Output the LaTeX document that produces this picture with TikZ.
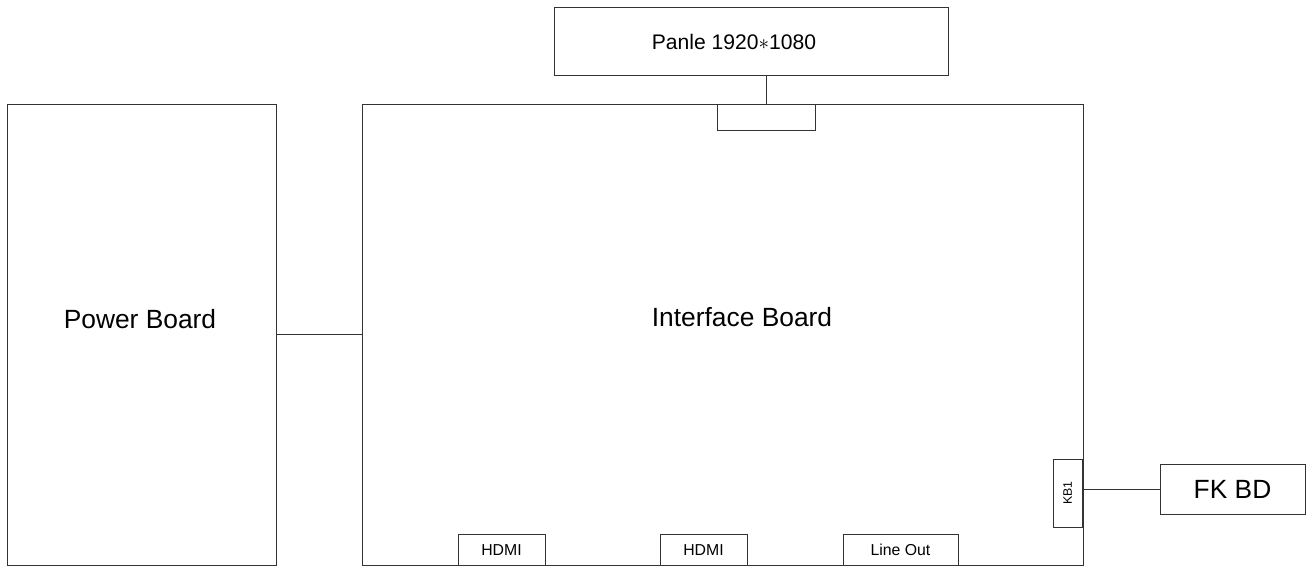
\documentclass[tikz,border=0pt]{standalone}
\usepackage{fontspec}
\setmainfont{Liberation Sans}
\usetikzlibrary{positioning}

\begin{document}
\begin{tikzpicture}[x=1cm,y=1cm,
  board/.style={draw=black!80,line width=0.5pt,inner sep=0pt,outer sep=0pt},
  port/.style={draw=black!80,line width=0.5pt,inner sep=0pt,outer sep=0pt,
    minimum height=0.61cm,font=\fontsize{9}{10}\selectfont},
  big/.style={font=\fontsize{15}{18}\selectfont},
  wire/.style={draw=black!80,line width=0.5pt}]

\useasboundingbox (0,0) rectangle (26.22,-11.34);

% boards
\node[board,minimum width=5.38cm,minimum height=9.22cm] (power) at (2.83,-6.69) {};
\node[board,minimum width=14.42cm,minimum height=9.22cm] (iface) at (14.45,-6.69) {};
\node[board,minimum width=7.88cm,minimum height=1.36cm] (panel) at (15.02,-0.82) {};
\node[board,minimum width=2.9cm,minimum height=1.0cm,big] (fkbd) at (24.65,-9.78) {FK BD};

% texts
\node[big] (powertxt) at (2.8,-6.38) {Power Board};
\node[big] (ifacetxt) at (14.84,-6.34) {Interface Board};
\node[font=\fontsize{12}{14}\selectfont] (paneltxt) at (14.68,-0.84) {Panle 1920$\ast$1080};

% connectors on the interface board
\node[board,minimum width=1.96cm,minimum height=0.52cm] (lvds) at (15.32,-2.34) {};
\node[port,minimum width=1.74cm] (hdmia) at (10.03,-11.0) {HDMI};
\node[port,minimum width=1.74cm] (hdmib) at (14.07,-11.0) {HDMI};
\node[port,minimum width=2.3cm] (lineout) at (18.01,-11.0) {Line Out};
\node[board,minimum width=0.58cm,minimum height=1.36cm,
  font=\fontsize{7}{8}\selectfont] (kb) at (21.35,-9.86) {\rotatebox{90}{KB1}};

% links
\draw[wire] (power.east) -- (iface.west);
\draw[wire] (lvds.north) -- (lvds.north |- panel.south);
\draw[wire] (fkbd.west) -- (fkbd.west -| kb.east);

\end{tikzpicture}
\end{document}
